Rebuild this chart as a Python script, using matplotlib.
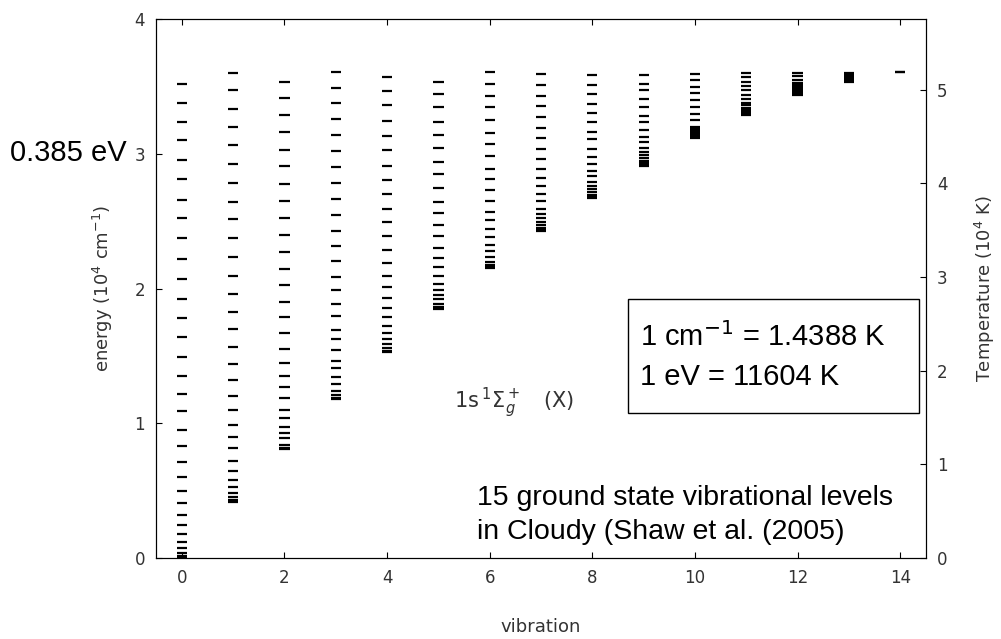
import matplotlib
matplotlib.use("Agg")
import matplotlib.pyplot as plt
from matplotlib.patches import Rectangle

# Rovibrational level energies (10^4 cm^-1), one list per v
energy_v0 = [0.0, 0.012, 0.035, 0.070, 0.117, 0.174, 0.241, 0.319, 0.405, 0.500,
             0.603, 0.713, 0.829, 0.951, 1.089, 1.215, 1.350, 1.491, 1.639, 1.783,
             1.921, 2.069, 2.217, 2.373, 2.526, 2.659, 2.813, 2.953, 3.101, 3.239,
             3.380, 3.521]
energy_v1 = [0.416, 0.427, 0.450, 0.483, 0.527, 0.581, 0.646, 0.719, 0.812, 0.899,
             0.990, 1.096, 1.202, 1.319, 1.439, 1.565, 1.696, 1.827, 1.958, 2.096,
             2.237, 2.373, 2.519, 2.644, 2.785, 2.928, 3.064, 3.200, 3.331, 3.472,
             3.598]
energy_v2 = [0.809, 0.819, 0.841, 0.887, 0.928, 0.973, 1.035, 1.096, 1.185, 1.267,
             1.353, 1.450, 1.550, 1.669, 1.787, 1.899, 2.024, 2.148, 2.274, 2.395,
             2.526, 2.647, 2.778, 2.909, 3.032, 3.165, 3.291, 3.415, 3.533]
energy_v3 = [1.178, 1.188, 1.209, 1.239, 1.289, 1.341, 1.407, 1.464, 1.545, 1.624,
             1.689, 1.793, 1.887, 1.990, 2.089, 2.202, 2.316, 2.427, 2.546, 2.664,
             2.783, 2.904, 3.020, 3.139, 3.257, 3.378, 3.487, 3.607]
energy_v4 = [1.525, 1.535, 1.555, 1.585, 1.627, 1.669, 1.724, 1.787, 1.854, 1.928,
             2.013, 2.096, 2.190, 2.284, 2.387, 2.496, 2.593, 2.704, 2.807, 2.913,
             3.027, 3.131, 3.247, 3.363, 3.469, 3.568]
energy_v5 = [1.849, 1.861, 1.887, 1.921, 1.952, 1.989, 2.037, 2.093, 2.158, 2.230,
             2.304, 2.389, 2.472, 2.558, 2.644, 2.750, 2.850, 2.941, 3.042, 3.139,
             3.239, 3.350, 3.442, 3.536]
energy_v6 = [2.150, 2.159, 2.177, 2.195, 2.232, 2.276, 2.326, 2.380, 2.442, 2.511,
             2.570, 2.647, 2.731, 2.810, 2.891, 2.987, 3.072, 3.158, 3.250, 3.348,
             3.430, 3.516, 3.607]
energy_v7 = [2.430, 2.437, 2.448, 2.470, 2.496, 2.526, 2.553, 2.589, 2.648, 2.701,
             2.761, 2.820, 2.884, 2.963, 3.037, 3.119, 3.193, 3.274, 3.356, 3.430,
             3.509, 3.590]
energy_v8 = [2.670, 2.681, 2.696, 2.715, 2.737, 2.763, 2.793, 2.832, 2.874, 2.921,
             2.980, 3.037, 3.109, 3.165, 3.239, 3.306, 3.368, 3.442, 3.509, 3.585]
energy_v9 = [2.911, 2.920, 2.933, 2.948, 2.967, 2.989, 3.015, 3.047, 3.087, 3.128,
             3.180, 3.239, 3.284, 3.348, 3.405, 3.472, 3.516, 3.583]
energy_v10 = [3.116, 3.124, 3.133, 3.144, 3.156, 3.167, 3.181, 3.202, 3.252, 3.299,
              3.348, 3.402, 3.450, 3.496, 3.546, 3.595]
energy_v11 = [3.292, 3.304, 3.315, 3.330, 3.344, 3.363, 3.381, 3.405, 3.439, 3.472,
              3.501, 3.536, 3.570, 3.602]
energy_v12 = [3.437, 3.442, 3.450, 3.459, 3.470, 3.481, 3.496, 3.511, 3.528, 3.548,
              3.578, 3.602]
energy_v13 = [3.537, 3.541, 3.548, 3.557, 3.567, 3.578, 3.589, 3.597]
energy_v14 = [3.606, 3.607]

levels = [energy_v0, energy_v1, energy_v2, energy_v3, energy_v4, energy_v5,
          energy_v6, energy_v7, energy_v8, energy_v9, energy_v10, energy_v11,
          energy_v12, energy_v13, energy_v14]

cm_to_K = 1.4388  # 1 cm^-1 = 1.4388 K

fig = plt.figure(figsize=(10.01, 6.39), dpi=100)
ax = fig.add_axes([0.156, 0.127, 0.769, 0.843])

for v, e in enumerate(levels):
    ax.hlines(e, v - 0.1, v + 0.1, colors="black", linewidth=1.6)

ax.set_xlim(-0.5, 14.5)
ax.set_ylim(0, 4)
ax.set_xticks(range(0, 15, 2))
ax.set_yticks([0, 1, 2, 3, 4])
ax.tick_params(direction="in", length=4, top=True, right=False, labelsize=12,
               labelcolor="#333333", pad=8)
ax.set_xlabel("vibration", fontsize=13, color="#333333", labelpad=22)
ax.set_ylabel("energy (10$^4$ cm$^{-1}$)", fontsize=13, color="#333333", labelpad=14)

ax2 = ax.twinx()
ax2.set_ylim(0, 4 * cm_to_K)
ax2.set_yticks([0, 1, 2, 3, 4, 5])
ax2.tick_params(direction="in", length=4, labelsize=12, labelcolor="#333333", pad=8)
ax2.set_ylabel("Temperature (10$^4$ K)", fontsize=13, color="#333333", labelpad=18)

ax.text(5.3, 1.15, r"1s$\,^1\Sigma_g^+$   (X)", fontsize=15, color="#333333",
        va="center")

fig.text(0.01, 0.76, "0.385 eV", fontsize=21, family="Liberation Sans", va="center")

# conversion box
ax.add_patch(Rectangle((0.613, 0.269), 0.378, 0.2115, transform=ax.transAxes,
                       facecolor="white", edgecolor="black", linewidth=1.0))
ax.text(8.93, 1.637, "1 cm$^{-1}$ = 1.4388 K", fontsize=21,
        family="Liberation Sans", va="center")
ax.text(8.93, 1.341, "1 eV = 11604 K", fontsize=21,
        family="Liberation Sans", va="center")

ax.text(5.75, 0.444, "15 ground state vibrational levels", fontsize=20.5,
        family="Liberation Sans", va="center")
ax.text(5.75, 0.193, "in Cloudy (Shaw et al. (2005)", fontsize=20.5,
        family="Liberation Sans", va="center")

fig.savefig("out.png", dpi=100)
